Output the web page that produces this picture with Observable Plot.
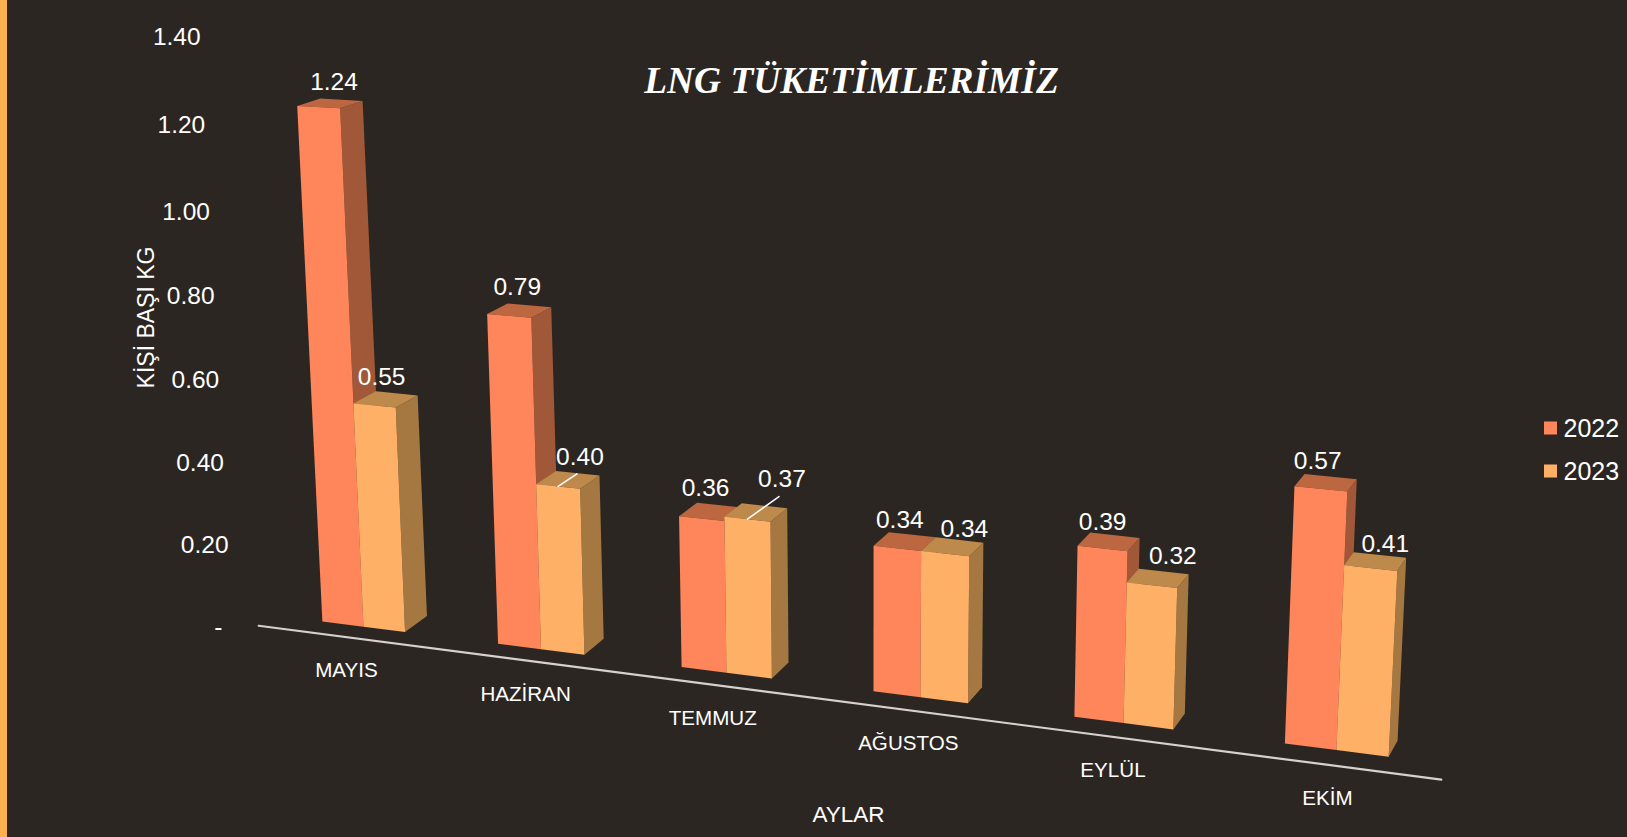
<!DOCTYPE html>
<html><head><meta charset="utf-8">
<style>html,body{margin:0;padding:0;background:#2c2622;overflow:hidden}svg{display:block}</style>
<script src="https://cdn.jsdelivr.net/npm/d3@7"></script>
<script src="https://cdn.jsdelivr.net/npm/@observablehq/plot@0.6"></script>
</head><body><div id="chart"></div>
<script>
const months = ["MAYIS","HAZİRAN","TEMMUZ","AĞUSTOS","EYLÜL","EKİM"];
const years = ["2022","2023"];
const values2022 = [1.24,0.79,0.36,0.34,0.39,0.57];
const values2023 = [0.55,0.40,0.37,0.34,0.32,0.41];
const yTicks = [0,0.2,0.4,0.6,0.8,1.0,1.2,1.4];
const faceKeys = ["2022 front","2022 side","2022 top","2023 front","2023 side","2023 top"];
const faceColors = ["#ff865a","#a05838","#bd6741","#ffb067","#a57842","#bd8a4c"];

const W = 1627, H = 837, barHalf = 0.238;
const font = "'Liberation Sans', sans-serif";

// Perspective of the 3-D chart: u = month position, v = value, d = depth (0 front, 1 back)
function floorX(u){ return (363 + 165.9*u) / (1 - 0.02148*u); }
function project(u, v, d){
  const fx = floorX(u), fy = 621 + 0.1268*(fx - 322);
  const rise = v * (396 + 9.3*u) * (1 + 0.045*v);
  const lean = (fx - 868) / 11200;
  return {x: fx + lean*rise + (22.5 - 2.6*u)*d, y: fy - rise - (16 - 7*v)*d};
}

// hand-placed data labels of the original, as offsets from the top of each bar
const nudge2022 = [[4,-21],[-2,-23],[-5,-24],[-5,-21],[-6,-20],[-8,-22]];
const nudge2023 = [[-4,-22],[12,-23],[26,-33],[12,-18],[15,-22],[10,-17]];
const hasLeader = ["0.40","0.37"];

const faces = [], labels = [], leaders = [];
months.forEach((m,i)=>{
  years.forEach((yr,k)=>{
    const v = (k ? values2023 : values2022)[i];
    const u0 = i - barHalf + k*barHalf, u1 = u0 + barHalf;
    const poly = (face, pts) => pts.forEach(p => faces.push({id:`${m}-${yr}-${face}`, key:`${yr} ${face}`, ...project(...p)}));
    poly("side",[[u1,0,0],[u1,0,1],[u1,v,1],[u1,v,0]]);
    poly("top",[[u0,v,0],[u1,v,0],[u1,v,1],[u0,v,1]]);
    poly("front",[[u0,0,0],[u1,0,0],[u1,v,0],[u0,v,0]]);
    const t = v.toFixed(2), uc = (u0+u1)/2;
    const a = project(uc,v,0.5), n = (k ? nudge2023 : nudge2022)[i];
    const lab = {text:t, x:a.x+n[0], y:a.y+n[1]};
    labels.push(lab);
    if (k && hasLeader.includes(t)){
      leaders.push({id:t,...project(uc,v,0)},{id:t,x:lab.x-3,y:lab.y+17});
    }
  });
});
const axisLine = [project(-0.52,0,-0.65),project(5.51,0,-0.95)];
const monthLabels = months.map((m,i)=>{const p=project(i,0,0);return {text:m,x:p.x-17+1.6*i,y:p.y+44+0.8*i};});
const tickLabels = yTicks.map(v=>({text:v===0?"-":v.toFixed(2),x:v===0?222:232.7-23.3*v,y:627-410*v-5.8*v*v*v}));
const legend = years.map((y,i)=>({text:y,y:428+43*i,key:y+" front"}));

const plot = Plot.plot({
  width:W,height:H,margin:0,
  x:{domain:[0,W],range:[0,W],axis:null},
  y:{domain:[0,H],range:[0,H],axis:null},
  color:{domain:faceKeys,range:faceColors},
  style:{background:"#2c2622",color:"#fff",fontFamily:font},
  marks:[
    Plot.rect([0],{x1:0,x2:7,y1:0,y2:H,fill:"#fbb04f"}),
    Plot.line(axisLine,{x:"x",y:"y",stroke:"#d4d2d0",strokeWidth:2.2}),
    Plot.line(faces,{x:"x",y:"y",z:"id",fill:"key",curve:"linear"}),
    Plot.line(leaders,{x:"x",y:"y",z:"id",stroke:"#fff",strokeWidth:1.5}),
    Plot.text(labels,{x:"x",y:"y",text:"text",fill:"#fff",fontSize:24.5,fontFamily:font}),
    Plot.text(tickLabels,{x:"x",y:"y",text:"text",fill:"#fff",fontSize:24.5,textAnchor:"end",fontFamily:font}),
    Plot.text(monthLabels,{x:"x",y:"y",text:"text",fill:"#fff",fontSize:20.6,fontFamily:font}),
    Plot.text(["LNG TÜKETİMLERİMİZ"],{x:851,y:81,text:d=>d,fill:"#fff",fontSize:37.4,fontWeight:"bold",fontStyle:"italic",fontFamily:"'Liberation Serif', serif"}),
    Plot.text(["AYLAR"],{x:848,y:814,text:d=>d,fill:"#fff",fontSize:22.5,fontFamily:font}),
    Plot.text(["KİŞİ BAŞI KG"],{x:146,y:317,text:d=>d,fill:"#fff",fontSize:23,rotate:-90,fontFamily:font}),
    Plot.rect(legend,{x1:1544,x2:1557,y1:d=>d.y-6.5,y2:d=>d.y+6.5,fill:"key"}),
    Plot.text(legend,{x:1563,y:"y",text:"text",fill:"#fff",fontSize:25,textAnchor:"start",fontFamily:font})
  ]
});
document.getElementById("chart").append(plot);
</script></body></html>
